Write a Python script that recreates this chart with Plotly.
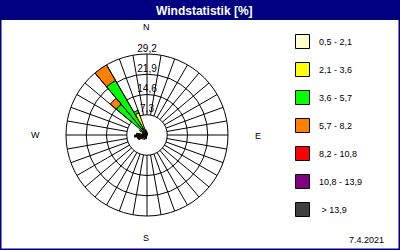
import plotly.graph_objects as go

# ---- data ----
title = "Windstatistik [%]"
date_text = "7.4.2021"
bin_labels = ["0,5 - 2,1", "2,1 - 3,6", "3,6 - 5,7", "5,7 - 8,2",
              "8,2 - 10,8", "10,8 - 13,9", " > 13,9"]
bin_colors = ["#FFFFCC", "#FFFF00", "#00FF00", "#FF8000",
              "#FF0000", "#800080", "#404040"]
directions = [5, 195, 215, 235, 245, 255, 265, 275, 285, 305, 315, 325, 335, 345, 355]
# percent per speed bin for each direction (rows = bins)
s_05_21 = [0.3, 0.3, 0.3, 0.3, 0.3, 0.3, 0.3, 0.3, 0.3, 0.3, 0.4, 0.4, 0.5, 0.5, 0.4]
s_21_36 = [0.5, 0.4, 0.5, 0.6, 0.6, 0.6, 0.7, 0.6, 0.5, 0.8, 1.6, 2.4, 8.0, 1.5, 0.8]
s_36_57 = [0.0, 0.8, 1.2, 0.8, 1.0, 1.0, 1.3, 1.1, 0.6, 2.0, 12.5, 19.9, 1.0, 0.0, 0.0]
s_57_82 = [0.0, 0.0, 0.0, 0.6, 1.2, 0.7, 0.9, 0.8, 0.3, 0.0, 2.8, 6.5, 0.0, 0.0, 0.0]
s_82_108 = [0.0, 0.0, 0.0, 0.0, 0.3, 0.4, 0.5, 0.4, 0.0, 0.0, 0.0, 0.0, 0.0, 0.0, 0.0]
s_108_139 = [0.0, 0.0, 0.0, 0.0, 0.0, 0.3, 0.4, 0.3, 0.0, 0.0, 0.0, 0.0, 0.0, 0.0, 0.0]
s_139 = [0.0, 0.0, 0.0, 0.0, 0.0, 0.3, 0.4, 0.3, 0.0, 0.0, 0.0, 0.0, 0.0, 0.0, 0.0]
series = [s_05_21, s_21_36, s_36_57, s_57_82, s_82_108, s_108_139, s_139]
radial_ticks = [7.3, 14.6, 21.9, 29.2]
radial_tick_text = ["7,3", "14,6", "21,9", "29,2"]
spoke_angles = list(range(0, 360, 10))
compass = ["N", "E", "S", "W"]

FONT = "Liberation Sans"
W, H = 400, 250

fig = go.Figure()

# spokes from inner ring to outer ring
for a in spoke_angles:
    fig.add_trace(go.Scatterpolar(r=[radial_ticks[0], radial_ticks[-1]], theta=[a, a],
                                  mode="lines", line=dict(color="black", width=1),
                                  showlegend=False, hoverinfo="skip"))

for lab, col, vals in zip(bin_labels, bin_colors, series):
    th = [d for d, v in zip(directions, vals) if v > 0]
    rv = [v for v in vals if v > 0]
    fig.add_trace(go.Barpolar(r=rv, theta=th, width=[10] * len(rv), name=lab,
                              marker=dict(color=col, line=dict(color="black", width=1)),
                              showlegend=False))

fig.add_trace(go.Scatterpolar(r=radial_ticks, theta=[0] * len(radial_ticks), mode="text",
                              text=radial_tick_text, textposition="top center",
                              textfont=dict(family=FONT, size=10, color="black"),
                              cliponaxis=False, showlegend=False, hoverinfo="skip"))

cx, cy, R = 147, 135, 81
fig.update_layout(
    width=W, height=H, margin=dict(l=0, r=0, t=0, b=0),
    paper_bgcolor="white", separators=", ",
    polar=dict(
        domain=dict(x=[(cx - R) / W, (cx + R) / W], y=[(H - cy - R) / H, (H - cy + R) / H]),
        bgcolor="white", barmode="stack",
        radialaxis=dict(range=[0, radial_ticks[-1]], tickvals=radial_ticks, showticklabels=False,
                        ticks="", showline=False, gridcolor="black", gridwidth=1),
        angularaxis=dict(rotation=90, direction="clockwise", showgrid=False,
                         showticklabels=False, ticks="", showline=True,
                         linecolor="black", linewidth=1),
    ),
    showlegend=False,
)


def ann(text, px, py, size, color="black", xanchor="center"):
    return dict(text=text, x=px / W, y=(H - py) / H, xref="paper", yref="paper",
                xanchor=xanchor, yanchor="middle", showarrow=False,
                font=dict(family=FONT, size=size, color=color))


shapes = [
    dict(type="rect", xref="paper", yref="paper", x0=0, x1=1, y0=(H - 20) / H, y1=1,
         fillcolor="#000080", line=dict(width=0)),
    dict(type="rect", xref="paper", yref="paper", x0=0, x1=1, y0=0, y1=1,
         line=dict(color="#000080", width=3), fillcolor="rgba(0,0,0,0)"),
]
annotations = [
    ann("<b>" + title + "</b>", 205, 10.5, 12, "white"),
    ann(date_text, 386, 240, 9, xanchor="right"),
]
comp_pos = [(146, 27), (258, 136), (146, 238), (35, 135)]
for t, (px, py) in zip(compass, comp_pos):
    annotations.append(ann(t, px, py, 9))
for i, (lab, col) in enumerate(zip(bin_labels, bin_colors)):
    yc = 41.5 + 28 * i
    shapes.append(dict(type="rect", xref="paper", yref="paper",
                       x0=295.5 / W, x1=309.5 / W, y0=(H - yc - 7) / H, y1=(H - yc + 7) / H,
                       fillcolor=col, line=dict(color="black", width=1)))
    txt = lab.replace(" ", "&nbsp;", 1) if lab.startswith(" ") else lab
    annotations.append(ann(txt, 317, yc, 9, xanchor="left"))
fig.update_layout(shapes=shapes, annotations=annotations)

fig.write_html("out.html")
